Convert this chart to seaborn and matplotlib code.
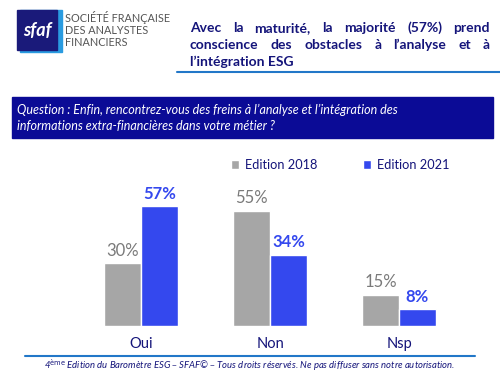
import pandas as pd
import matplotlib.pyplot as plt
import matplotlib.patches as mpatches
import seaborn as sns

# Données
categories = ['Oui', 'Non', 'Nsp']
edition_2018 = [30, 55, 15]
edition_2021 = [57, 34, 8]
series_names = ['Edition 2018', 'Edition 2021']

title_lines = ['Avec la maturité, la majorité (57%) prend',
               'conscience des obstacles à l’analyse et à',
               'l’intégration ESG']
question_lines = ['Question : Enfin, rencontrez-vous des freins à l’analyse et l’intégration des',
                  'informations extra-financières dans votre métier ?']
footer = 'Edition du Baromètre ESG – SFAF© – Tous droits réservés. Ne pas diffuser sans notre autorisation.'

NAVY = '#14147a'
GREY = '#a6a6a6'
BLUE = '#3448ee'
LINE = '#2277c8'

df = pd.DataFrame({
    'cat': categories * 2,
    'val': edition_2018 + edition_2021,
    'serie': [series_names[0]] * 3 + [series_names[1]] * 3,
})

sns.set_style('white')
plt.rcParams['font.family'] = ['Lato', 'DejaVu Sans']

W, H = 500, 375
fig = plt.figure(figsize=(5, 3.75), dpi=100)

def fx(px):
    return px / W

def fy(py):
    return 1 - py / H

# Graphique
ax = fig.add_axes([fx(76.5), fy(326), fx(387), (326 - 200) / H])
sns.barplot(data=df, x='cat', y='val', hue='serie', order=categories,
            hue_order=series_names, palette={series_names[0]: GREY, series_names[1]: BLUE},
            width=0.57, saturation=1, ax=ax)
ax.set_ylim(0, 60)
ax.set_xlim(-0.5, 2.5)
ax.set_xlabel('')
ax.set_ylabel('')
ax.set_yticks([])
ax.tick_params(axis='x', length=0, labelsize=10.5, labelcolor=NAVY, pad=8)
for s in ax.spines.values():
    s.set_visible(False)
ax.patch.set_alpha(0)

for i, cont in enumerate(ax.containers):
    if i == 0:
        ax.bar_label(cont, fmt='%d%%', padding=3, fontsize=12, color='#7a7a7a')
    else:
        ax.bar_label(cont, fmt='%d%%', padding=3, fontsize=12, color=BLUE, fontweight='bold')

handles, labels = ax.get_legend_handles_labels()
ax.legend_.remove()
fig.legend(handles, labels, loc='center', bbox_to_anchor=(fx(340), fy(165)), ncol=2,
           frameon=False, handlelength=0.65, handleheight=0.65, handletextpad=0.45,
           columnspacing=3.6, fontsize=9.2, labelcolor=NAVY)

# Logo
fig.patches.append(mpatches.Rectangle((fx(20), fy(52)), fx(42), 42 / H,
                                      color='#2a9be0', transform=fig.transFigure))
fig.patches.append(mpatches.Rectangle((fx(17), fy(50)), fx(40), 40 / H,
                                      color='#1a1a7a', transform=fig.transFigure))
fig.text(fx(37), fy(31), 'sfaf', color='white', fontsize=13, fontweight='bold',
         ha='center', va='center', style='italic')
for k, t in enumerate(['SOCIÉTÉ FRANÇAISE', 'DES ANALYSTES', 'FINANCIERS']):
    fig.text(fx(65), fy(17 + 13 * k), t, color='#555555', fontsize=7.8, va='center')

# Titre justifié
fig.canvas.draw()
renderer = fig.canvas.get_renderer()
x0, x1 = 190, 490
for k, line in enumerate(title_lines):
    y = fy(28 + 17 * k)
    words = line.split(' ')
    if k == len(title_lines) - 1:
        fig.text(fx(x0), y, line, color=NAVY, fontsize=10, fontweight='bold', va='center')
        continue
    arts = [fig.text(0, y, w, color=NAVY, fontsize=10, fontweight='bold', va='center')
            for w in words]
    widths = [a.get_window_extent(renderer).width for a in arts]
    gap = (x1 - x0 - sum(widths)) / (len(words) - 1)
    x = x0
    for a, w in zip(arts, widths):
        a.set_x(fx(x))
        x += w + gap

fig.add_artist(plt.Line2D([fx(177), fx(500)], [fy(72), fy(72)], color=LINE, lw=1.5))

# Question
fig.patches.append(mpatches.Rectangle((fx(12), fy(138)), fx(481), 41 / H,
                                      color='#0b0b96', transform=fig.transFigure))
for k, t in enumerate(question_lines):
    fig.text(fx(17), fy(110 + 16 * k), t, color='white', fontsize=9, style='italic',
             va='center')

# Pied de page
fig.add_artist(plt.Line2D([fx(25), fx(475)], [fy(356), fy(356)], color=LINE, lw=1.5))
fig.text(fx(250), fy(365), r'4$^{\rm ème}$ ' + footer, color=NAVY, fontsize=6.8,
         style='italic', ha='center', va='center')

fig.savefig('out.png', dpi=100)
